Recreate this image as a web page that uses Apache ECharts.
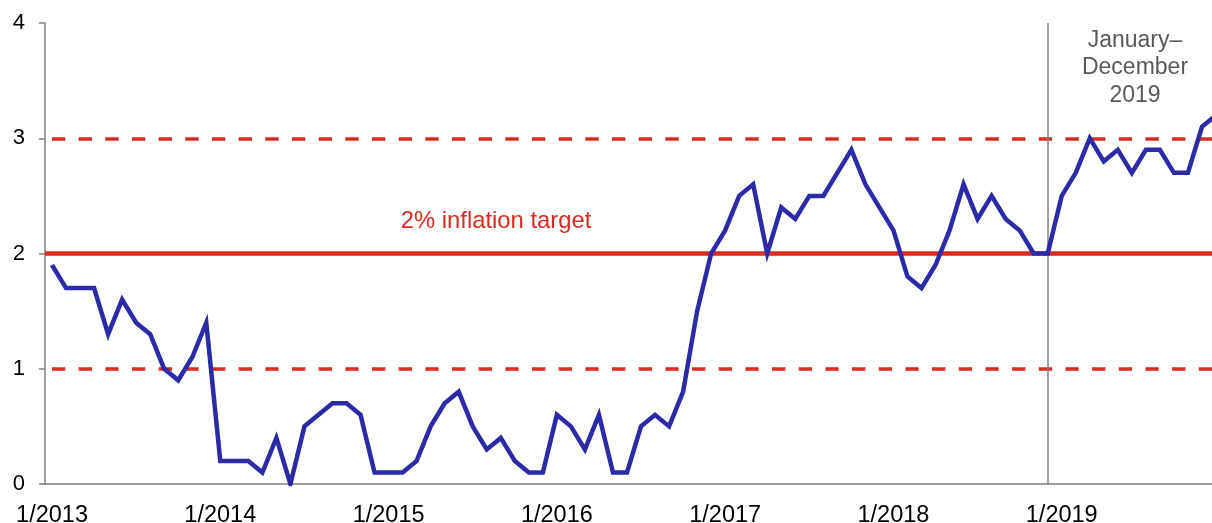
<!DOCTYPE html>
<html>
<head>
<meta charset="utf-8">
<script src="https://cdn.jsdelivr.net/npm/echarts@6/dist/echarts.min.js"></script>
<style>
html,body{margin:0;padding:0;background:#fff;overflow:hidden;}
#chart{width:1230px;height:523px;}
</style>
</head>
<body>
<div id="chart"></div>
<script>
// Monthly categories Jan 2013 – Dec 2019
const years = [2013, 2014, 2015, 2016, 2017, 2018, 2019];
const categories = [];
years.forEach(y => { for (let m = 1; m <= 12; m++) categories.push(m + '/' + y); });

// Inflation (%)
const inflation = [
  1.9, 1.7, 1.7, 1.7, 1.3, 1.6, 1.4, 1.3, 1.0, 0.9, 1.1, 1.4,   // 2013
  0.2, 0.2, 0.2, 0.1, 0.4, 0.0, 0.5, 0.6, 0.7, 0.7, 0.6, 0.1,   // 2014
  0.1, 0.1, 0.2, 0.5, 0.7, 0.8, 0.5, 0.3, 0.4, 0.2, 0.1, 0.1,   // 2015
  0.6, 0.5, 0.3, 0.6, 0.1, 0.1, 0.5, 0.6, 0.5, 0.8, 1.5, 2.0,   // 2016
  2.2, 2.5, 2.6, 2.0, 2.4, 2.3, 2.5, 2.5, 2.7, 2.9, 2.6, 2.4,   // 2017
  2.2, 1.8, 1.7, 1.9, 2.2, 2.6, 2.3, 2.5, 2.3, 2.2, 2.0, 2.0,   // 2018
  2.5, 2.7, 3.0, 2.8, 2.9, 2.7, 2.9, 2.9, 2.7, 2.7, 3.1, 3.2    // 2019
];

const targetValue = 2;
const bandValues = [1, 3];
const yTicks = [0, 1, 2, 3, 4];
const dividerCategory = '12/2018';
const targetLabel = '2% inflation target';
const periodLabel = 'January–\nDecember\n2019';

const RED = '#d92b20';
const BLUE = '#2b2ba8';
const GRAY = '#808080';
const FONT = '"Liberation Sans", Arial, sans-serif';
const DASH = [13.3, 13.37];

const chart = echarts.init(document.getElementById('chart'));
chart.setOption({
  animation: false,
  backgroundColor: '#fff',
  grid: { left: 45, top: 23, width: 1178, height: 461, containLabel: false, outerBoundsMode: 'none' },
  xAxis: {
    type: 'category',
    data: categories,
    boundaryGap: true,
    axisLine: { show: true, lineStyle: { color: GRAY, width: 1.5 } },
    axisTick: { show: false },
    axisLabel: { interval: 11, color: '#000', fontSize: 23.5, fontFamily: FONT, margin: 20 },
    splitLine: { show: false }
  },
  yAxis: {
    type: 'value',
    min: yTicks[0],
    max: yTicks[yTicks.length - 1],
    interval: 1,
    axisLine: { show: true, lineStyle: { color: GRAY, width: 1.5 } },
    axisTick: { show: true, length: 6, lineStyle: { color: GRAY, width: 1.5 } },
    axisLabel: { color: '#000', fontSize: 22, fontFamily: FONT, margin: 20 },
    splitLine: { show: false }
  },
  series: [
    {
      type: 'line',
      data: inflation,
      symbol: 'none',
      lineStyle: { color: BLUE, width: 4.5, join: 'miter' },
      z: 5,
      markLine: {
        silent: true,
        symbol: 'none',
        label: { show: false },
        z: 2,
        data: [
          { yAxis: targetValue, lineStyle: { color: RED, width: 4.5, type: 'solid' } },
          { yAxis: bandValues[0], lineStyle: { color: RED, width: 3.5, type: DASH, dashOffset: 19.7 } },
          { yAxis: bandValues[1], lineStyle: { color: RED, width: 3.5, type: DASH, dashOffset: 19.7 } },
          { xAxis: dividerCategory, lineStyle: { color: GRAY, width: 1.5, type: 'solid' } }
        ]
      }
    }
  ],
  graphic: [
    {
      type: 'text',
      x: 496, y: 221,
      style: {
        text: targetLabel,
        fill: RED,
        font: '23.8px ' + FONT,
        textAlign: 'center',
        textVerticalAlign: 'middle'
      }
    },
    {
      type: 'text',
      x: 1135, y: 68,
      style: {
        text: periodLabel,
        fill: '#595959',
        font: '23px ' + FONT,
        lineHeight: 27.5,
        textAlign: 'center',
        textVerticalAlign: 'middle'
      }
    }
  ]
});
</script>
</body>
</html>
